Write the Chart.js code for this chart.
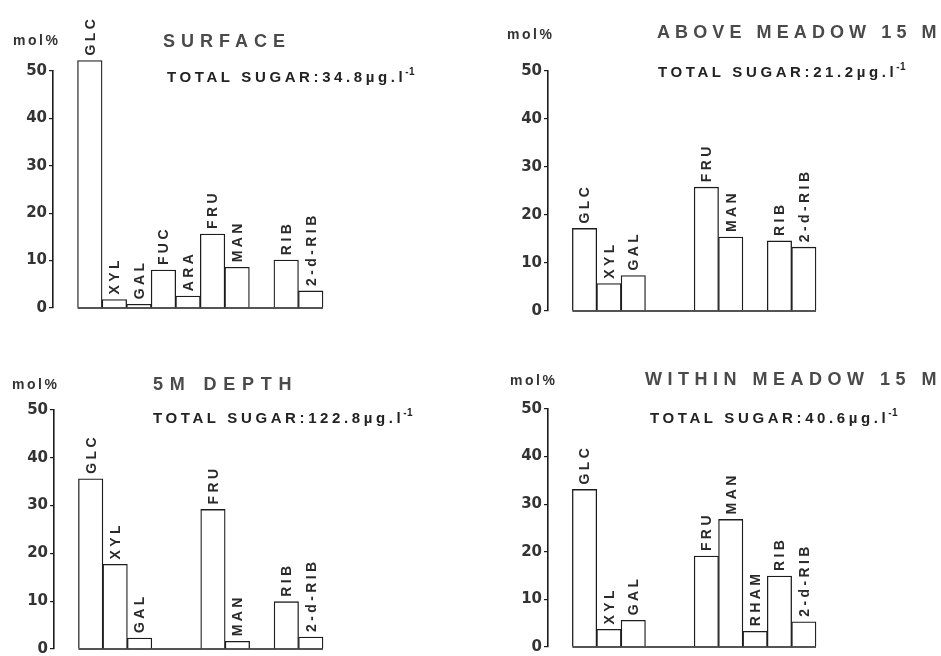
<!DOCTYPE html>
<html>
<head>
<meta charset="utf-8">
<script src="https://cdn.jsdelivr.net/npm/chart.js@4.4.1/dist/chart.umd.min.js"></script>
<style>
  body { margin: 0; background: #fff; }
  #wrap { position: relative; width: 941px; height: 656px; overflow: hidden; }
  #wrap canvas { position: absolute; }
</style>
</head>
<body>
<div id="wrap">
  <canvas id="surface" width="470" height="328" style="left:0;top:0"></canvas>
  <canvas id="above" width="471" height="328" style="left:470px;top:0"></canvas>
  <canvas id="depth" width="470" height="328" style="left:0;top:328px"></canvas>
  <canvas id="within" width="471" height="328" style="left:470px;top:328px"></canvas>
</div>
<script>
// sugars, in the order of the bars
const sugars = ['GLC', 'XYL', 'GAL', 'FUC', 'ARA', 'FRU', 'MAN', 'RHAM', 'RIB', '2-d-RIB'];

// mol% per sugar (null = not found)
const surface      = [52.2, 1.8, 0.8, 8.0, 2.5, 15.6, 8.6, null, 10.1, 3.6];
const aboveMeadow  = [17.2, 5.7, 7.4, null, null, 25.8, 15.4, null, 14.6, 13.3];
const depth5m      = [35.6, 17.7, 2.3, null, null, 29.2, 1.6, null, 9.9, 2.5];
const withinMeadow = [33.1, 3.7, 5.6, null, null, 19.1, 26.8, 3.3, 14.9, 5.3];

const panelTitles = ['SURFACE', 'ABOVE MEADOW 15 M', '5M DEPTH', 'WITHIN MEADOW 15 M'];
const totalSugar = ['34.8', '21.2', '122.8', '40.6'];
const yTicks = [0, 10, 20, 30, 40, 50];
const unitLabel = 'mol%';

const FONT = '"Liberation Sans", Arial, sans-serif';
const TICKFONT = '"DejaVu Sans", sans-serif';
const INK = '#1c1c1c';

// rotated names above the bars + the baseline under them
const barLabels = {
  id: 'barLabels',
  afterDatasetsDraw(chart) {
    const ctx = chart.ctx;
    const xs = chart.scales.x, ys = chart.scales.y;
    const meta = chart.getDatasetMeta(0);
    const n = chart.data.labels.length;
    const slot = xs.getPixelForValue(2) - xs.getPixelForValue(1);
    const y0 = ys.getPixelForValue(0);

    ctx.save();
    ctx.strokeStyle = INK;
    ctx.lineWidth = 1.6;
    ctx.beginPath();
    ctx.moveTo(xs.getPixelForValue(1) - slot / 2, y0);
    ctx.lineTo(xs.getPixelForValue(n - 1) + slot / 2, y0);
    ctx.stroke();

    ctx.fillStyle = '#2a2a2a';
    ctx.font = 'bold 14px ' + FONT;
    ctx.letterSpacing = '3.4px';
    ctx.textAlign = 'left';
    ctx.textBaseline = 'middle';
    meta.data.forEach((bar, i) => {
      const v = chart.data.datasets[0].data[i];
      if (v === null || v === undefined) return;
      ctx.save();
      ctx.translate(bar.x + 1, bar.y - 5);
      ctx.rotate(-Math.PI / 2);
      ctx.fillText(chart.data.labels[i], 0, 0);
      ctx.restore();
    });
    ctx.restore();
  }
};

// mol%, title and total sugar line
const panelText = {
  id: 'panelText',
  afterDraw(chart, args, opts) {
    const ctx = chart.ctx;
    ctx.save();
    ctx.textAlign = 'left';
    ctx.textBaseline = 'alphabetic';

    ctx.fillStyle = '#333';
    ctx.font = 'bold 14px ' + FONT;
    ctx.letterSpacing = '2.5px';
    ctx.fillText(unitLabel, opts.mol[0], opts.mol[1]);

    ctx.fillStyle = '#4a4a4a';
    ctx.font = 'bold 18px ' + FONT;
    ctx.letterSpacing = opts.titleSpacing;
    ctx.fillText(opts.title, opts.titlePos[0], opts.titlePos[1]);

    ctx.fillStyle = '#222';
    ctx.font = 'bold 15px ' + FONT;
    ctx.letterSpacing = '3.6px';
    const main = 'TOTAL SUGAR:' + opts.total + 'µg.l';
    ctx.fillText(main, opts.subPos[0], opts.subPos[1]);
    const w = ctx.measureText(main).width;
    ctx.font = 'bold 10px ' + FONT;
    ctx.letterSpacing = '0.5px';
    ctx.fillText('-1', opts.subPos[0] + w - 1, opts.subPos[1] - 7);
    ctx.restore();
  }
};

function drawChart(id, values, idx, layout) {
  const el = document.getElementById(id);
  return new Chart(el, {
    type: 'bar',
    data: {
      labels: [''].concat(sugars),
      datasets: [{
        data: [null].concat(values),
        backgroundColor: '#ffffff',
        borderColor: INK,
        borderWidth: 1.3,
        barPercentage: 1,
        categoryPercentage: 1,
        clip: false
      }]
    },
    options: {
      responsive: false,
      animation: false,
      events: [],
      layout: { padding: layout.padding },
      plugins: {
        legend: { display: false },
        tooltip: { enabled: false },
        panelText: {
          title: panelTitles[idx],
          total: totalSugar[idx],
          mol: layout.mol,
          titlePos: layout.titlePos,
          subPos: layout.subPos,
          titleSpacing: layout.titleSpacing
        }
      },
      scales: {
        x: { display: false },
        y: {
          min: yTicks[0],
          max: yTicks[yTicks.length - 1],
          afterBuildTicks: (s) => { s.ticks = yTicks.map(v => ({ value: v })); },
          afterFit: (s) => { s.width = layout.axisW; s.paddingTop = 0; s.paddingBottom = 0; },
          ticks: {
            color: '#333',
            padding: 2,
            font: { family: TICKFONT, size: 15, weight: 'bold' }
          },
          grid: {
            display: true,
            drawOnChartArea: false,
            drawTicks: true,
            tickLength: 4,
            color: INK,
            lineWidth: 1.2
          },
          border: { display: true, color: INK, width: 1.6 }
        }
      }
    },
    plugins: [barLabels, panelText]
  });
}

drawChart('surface', surface, 0, {
  axisW: 53, padding: { left: 0, right: 147, top: 71, bottom: 20 },
  mol: [13, 45], titlePos: [163, 47], subPos: [167, 82], titleSpacing: '6px'
});
drawChart('above', aboveMeadow, 1, {
  axisW: 78, padding: { left: 0, right: 125, top: 71, bottom: 17 },
  mol: [37, 39], titlePos: [187, 38], subPos: [188, 77], titleSpacing: '5.1px'
});
drawChart('depth', depth5m, 2, {
  axisW: 54, padding: { left: 0, right: 147, top: 82, bottom: 7 },
  mol: [12, 61], titlePos: [153, 62], subPos: [153, 95], titleSpacing: '6.8px'
});
drawChart('within', withinMeadow, 3, {
  axisW: 78, padding: { left: 0, right: 125, top: 81, bottom: 9 },
  mol: [40, 57], titlePos: [175, 57], subPos: [180, 95], titleSpacing: '5.5px'
});
</script>
</body>
</html>
